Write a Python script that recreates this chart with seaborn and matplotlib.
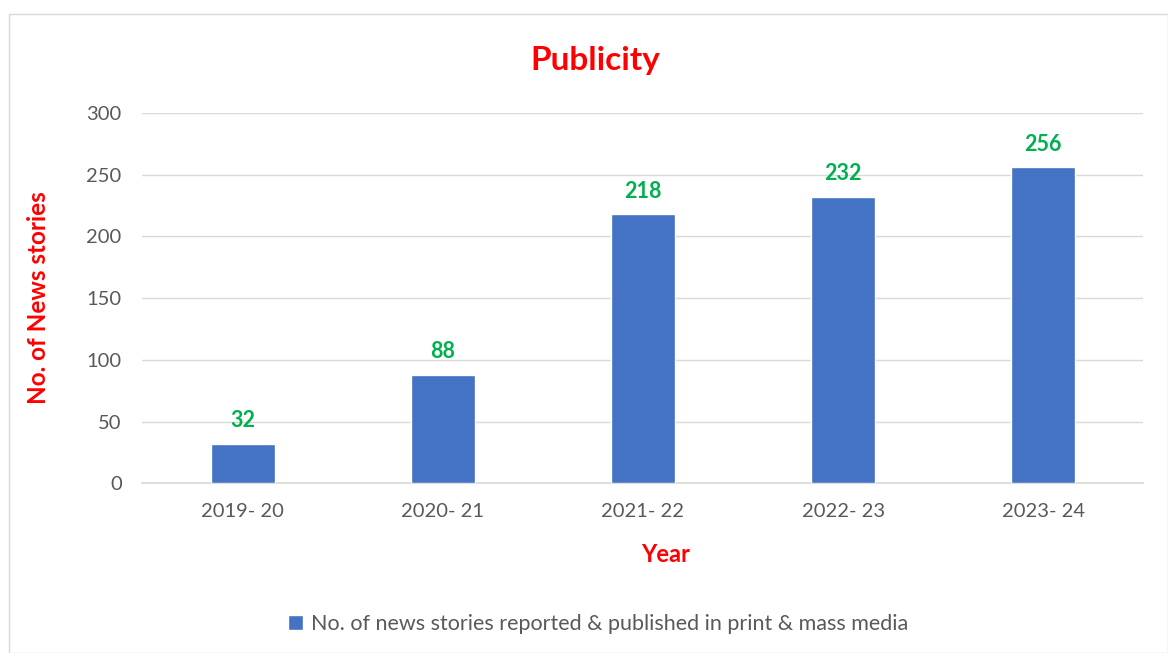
import matplotlib
matplotlib.use("Agg")
import matplotlib.pyplot as plt
import seaborn as sns
import pandas as pd

years = ["2019- 20", "2020- 21", "2021- 22", "2022- 23", "2023- 24"]
stories = [32, 88, 218, 232, 256]
series_name = "No. of news stories reported & published in print & mass media"

sns.set_theme(style="white")
plt.rcParams['font.family'] = ['Lato', 'DejaVu Sans']

df = pd.DataFrame({"Year": years, "Stories": stories})

fig = plt.figure(figsize=(11.68, 6.53), dpi=100)
ax = fig.add_axes([0.122, 0.26, 0.857, 0.567])

sns.barplot(data=df, x="Year", y="Stories", color="#4472C4", width=0.32,
            saturation=1, ax=ax, label=series_name, zorder=3)

ax.set_ylim(0, 300)
ax.set_yticks(range(0, 301, 50))
ax.yaxis.grid(True, color="#D9D9D9", linewidth=1, zorder=0)
ax.set_axisbelow(True)
for s in ["top", "right", "left"]:
    ax.spines[s].set_visible(False)
ax.spines["bottom"].set_color("#D9D9D9")
ax.tick_params(axis="both", length=0, labelsize=14.5, colors="#595959")
ax.tick_params(axis="x", pad=14)
ax.tick_params(axis="y", pad=15)

for c in ax.containers:
    ax.bar_label(c, labels=[str(v) for v in stories], padding=9,
                 color="#00B050", fontsize=15.5, fontweight="bold")

fig.text(0.51, 0.908, "Publicity", color="#FF0000", fontsize=24, fontweight="bold",
         ha="center", va="center")
ax.set_xlabel("Year", color="#FF0000", fontsize=17, fontweight="bold")
ax.xaxis.set_label_coords(0.523, -0.162)
ax.set_ylabel("No. of News stories", color="#FF0000", fontsize=17.5, fontweight="bold", labelpad=26)

ax.legend().remove()
handles, labels = ax.get_legend_handles_labels()
leg = fig.legend(handles, labels, loc="center", bbox_to_anchor=(0.512, 0.044), frameon=False,
                 fontsize=15.5, handlelength=0.7, handleheight=0.7, handletextpad=0.4)
for t in leg.get_texts():
    t.set_color("#595959")

fig.patches.append(plt.Rectangle((0.008, 0.0), 0.992, 0.978, transform=fig.transFigure,
                                 fill=False, edgecolor="#D9D9D9", linewidth=1))

fig.savefig("out.png", dpi=100)
